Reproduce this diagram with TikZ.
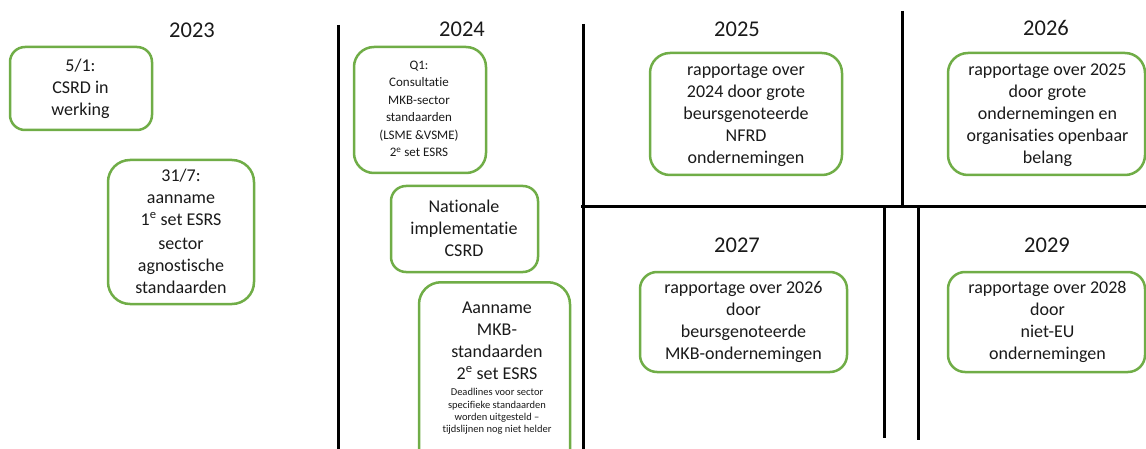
\documentclass[tikz,border=0pt]{standalone}
\usepackage{fontspec}
\setmainfont{Carlito}[Ligatures=NoCommon]
\definecolor{boxgreen}{HTML}{70AD47}
\definecolor{txt}{HTML}{1A1A1A}
\begin{document}
\begin{tikzpicture}[x=1pt,y=-1pt,
  box/.style={draw=boxgreen, line width=2.5pt, fill=white, inner sep=0pt},
  boxtext/.style={align=center, inner sep=0pt, text=txt, font=\fontsize{18}{22}\selectfont},
  smalltext/.style={align=center, inner sep=0pt, text=txt, font=\fontsize{13}{17.5}\selectfont},
  tinytext/.style={align=center, inner sep=0pt, text=txt, font=\fontsize{10.5}{12.4}\selectfont},
  year/.style={inner sep=0pt, text=txt, font=\fontsize{22.5}{27}\selectfont},
  divider/.style={line width=3pt, black}]
\useasboundingbox (0,0) rectangle (1146,449);
\clip (0,0) rectangle (1146,449);

% dividers
\coordinate (d1t) at (338,25);   \coordinate (d1b) at (338,460);
\coordinate (d2t) at (583,24);   \coordinate (d2b) at (583,460);
\coordinate (d3t) at (902,11);   \coordinate (d3b) at (902,207);
\coordinate (hl)  at (581,207);  \coordinate (hr)  at (1150,207);
\coordinate (d4t) at (884,207);  \coordinate (d4b) at (884,438);
\coordinate (d5t) at (918,207);  \coordinate (d5b) at (918,440);
\draw[divider] (d1t) -- (d1b);
\draw[divider] (d2t) -- (d2b);
\draw[divider] (d3t) -- (d3b);
\draw[divider] (hl) -- (hr);
\draw[divider] (d4t) -- (d4b);
\draw[divider] (d5t) -- (d5b);

% years
\node[year] (y2023) at (192,30) {2023};
\node[year] (y2024) at (462,29) {2024};
\node[year] (y2025) at (737,29) {2025};
\node[year] (y2026) at (1046,28) {2026};
\node[year] (y2027) at (737,245) {2027};
\node[year] (y2029) at (1047,245) {2029};

% 2023
\node[box, rounded corners=15pt, minimum width=142pt, minimum height=83pt] (b1) at (81,88.5) {};
\node[boxtext] (t1) at (80.5,89) {5/1:\\CSRD in\\werking};
\node[box, rounded corners=22pt, minimum width=146pt, minimum height=144pt] (b2) at (181,232) {};
\node[boxtext] (t2) at (181,231) {31/7:\\aanname\\1\textsuperscript{e} set ESRS\\[2pt]sector\\agnostische\\standaarden};

% 2024
\node[box, rounded corners=20pt, minimum width=132pt, minimum height=126pt] (b3) at (420,110) {};
\node[smalltext] (t3) at (419,109) {Q1:\\Consultatie\\MKB-sector\\standaarden\\(LSME \&VSME)\\2\textsuperscript{e} set ESRS};
\node[box, rounded corners=15pt, minimum width=147pt, minimum height=86pt] (b4) at (464.5,229) {};
\node[boxtext] (t4) at (464,228.5) {Nationale\\implementatie\\CSRD};
\node[box, rounded corners=22pt, minimum width=151pt, minimum height=200pt, anchor=north] (b5) at (494.5,281) {};
\node[boxtext] (t5) at (497,340.5) {Aanname\\MKB-\\standaarden\\2\textsuperscript{e} set ESRS};
\node[tinytext] (t5b) at (497,411.5) {Deadlines voor sector\\specifieke standaarden\\worden uitgesteld –\\tijdslijnen nog niet helder};

% 2025 / 2026
\node[box, rounded corners=20pt, minimum width=192pt, minimum height=122pt] (b6) at (746,114) {};
\node[boxtext] (t6) at (746,115) {rapportage over\\2024 door grote\\beursgenoteerde\\NFRD\\ondernemingen};
\node[box, rounded corners=20pt, minimum width=197pt, minimum height=122pt] (b7) at (1046.5,114) {};
\node[boxtext] (t7) at (1047.5,115) {rapportage over 2025\\door grote\\ondernemingen en\\organisaties openbaar\\belang};

% 2027 / 2029
\node[box, rounded corners=17pt, minimum width=207pt, minimum height=100pt] (b8) at (743.5,322) {};
\node[boxtext] (t8) at (743.5,322) {rapportage over 2026\\door\\beursgenoteerde\\MKB-ondernemingen};
\node[box, rounded corners=17pt, minimum width=197pt, minimum height=100pt] (b9) at (1046.5,322) {};
\node[boxtext] (t9) at (1047.5,322) {rapportage over 2028\\door\\niet-EU\\ondernemingen};
\end{tikzpicture}
\end{document}
